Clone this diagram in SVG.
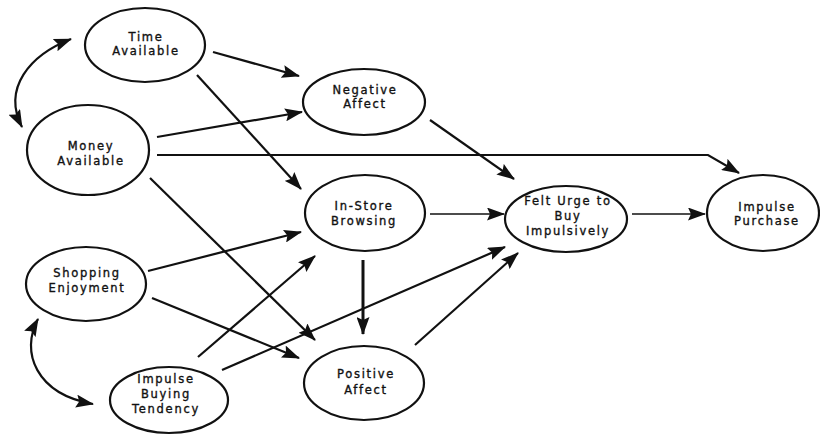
<svg xmlns="http://www.w3.org/2000/svg" width="820" height="436" viewBox="0 0 820 436">
  <style>
    .node ellipse { fill: #ffffff; stroke: #111111; stroke-width: 2.2; }
    .node text { font-family: "DejaVu Sans", "Verdana", sans-serif; font-size: 11.5px; letter-spacing: 1.7px; fill: #111111; stroke: #111111; stroke-width: 0.35; text-anchor: middle; }
    .edge { fill: none; stroke: #111111; stroke-width: 2.2; }
    .thin { stroke-width: 1.7; }
    .thick { stroke-width: 3; }
  </style>
  <defs>
    <marker id="arrow" viewBox="0 0 18 13" refX="17" refY="6.5" markerWidth="18" markerHeight="13" markerUnits="userSpaceOnUse" orient="auto-start-reverse">
      <path d="M0,0 L18,6.5 L0,13 L3,6.5 z" fill="#111111"/>
    </marker>
  </defs>
  <rect width="820" height="436" fill="#ffffff"/>

  <g id="connectors">
    <!-- correlations -->
    <path class="edge" d="M71,39 C30,55 2,88 22,127" marker-start="url(#arrow)" marker-end="url(#arrow)"/>
    <path class="edge" d="M38,319 C20,352 36,394 93,404" marker-start="url(#arrow)" marker-end="url(#arrow)"/>
    <!-- paths -->
    <path class="edge" d="M213,52 L299,76" marker-end="url(#arrow)"/>
    <path class="edge" d="M197,75 L301,189" marker-end="url(#arrow)"/>
    <path class="edge" d="M157,137 L302,112" marker-end="url(#arrow)"/>
    <path class="edge" d="M157,155 L708,155 L739,173" marker-end="url(#arrow)"/>
    <path class="edge" d="M150,178 L315,340" marker-end="url(#arrow)"/>
    <path class="edge" d="M430,120 L514,179" marker-end="url(#arrow)"/>
    <path class="edge thin" d="M430,214 L504,214" marker-end="url(#arrow)"/>
    <path class="edge thin" d="M632,214 L705,214" marker-end="url(#arrow)"/>
    <path class="edge thick" d="M363,260 L363,334" marker-end="url(#arrow)"/>
    <path class="edge" d="M148,271 L301,232" marker-end="url(#arrow)"/>
    <path class="edge" d="M152,298 L299,358" marker-end="url(#arrow)"/>
    <path class="edge" d="M198,357 L315,256" marker-end="url(#arrow)"/>
    <path class="edge" d="M222,370 L505,247" marker-end="url(#arrow)"/>
    <path class="edge" d="M415,345 L518,253" marker-end="url(#arrow)"/>
  </g>

  <g id="time-available" class="node">
    <ellipse cx="145" cy="45" rx="60" ry="37"/>
    <text x="146" y="41">Time</text>
    <text x="146" y="55">Available</text>
  </g>
  <g id="money-available" class="node">
    <ellipse cx="88" cy="150" rx="61" ry="45"/>
    <text x="91" y="150">Money</text>
    <text x="91" y="165">Available</text>
  </g>
  <g id="shopping-enjoyment" class="node">
    <ellipse cx="86" cy="284" rx="60" ry="37"/>
    <text x="87" y="277">Shopping</text>
    <text x="87" y="292">Enjoyment</text>
  </g>
  <g id="impulse-buying-tendency" class="node">
    <ellipse cx="169" cy="400" rx="59" ry="33"/>
    <text x="166" y="383">Impulse</text>
    <text x="166" y="398">Buying</text>
    <text x="166" y="413">Tendency</text>
  </g>
  <g id="negative-affect" class="node">
    <ellipse cx="364" cy="102" rx="61" ry="33"/>
    <text x="365" y="94">Negative</text>
    <text x="365" y="108">Affect</text>
  </g>
  <g id="in-store-browsing" class="node">
    <ellipse cx="365" cy="213" rx="60" ry="38"/>
    <text x="364" y="210">In-Store</text>
    <text x="364" y="225">Browsing</text>
  </g>
  <g id="positive-affect" class="node">
    <ellipse cx="364" cy="383" rx="60" ry="37"/>
    <text x="366" y="378">Positive</text>
    <text x="366" y="394">Affect</text>
  </g>
  <g id="felt-urge" class="node">
    <ellipse cx="566" cy="219" rx="61" ry="33"/>
    <text x="568" y="205">Felt Urge to</text>
    <text x="568" y="220">Buy</text>
    <text x="568" y="235">Impulsively</text>
  </g>
  <g id="impulse-purchase" class="node">
    <ellipse cx="763" cy="213" rx="56" ry="38"/>
    <text x="767" y="211">Impulse</text>
    <text x="767" y="225">Purchase</text>
  </g>
</svg>
